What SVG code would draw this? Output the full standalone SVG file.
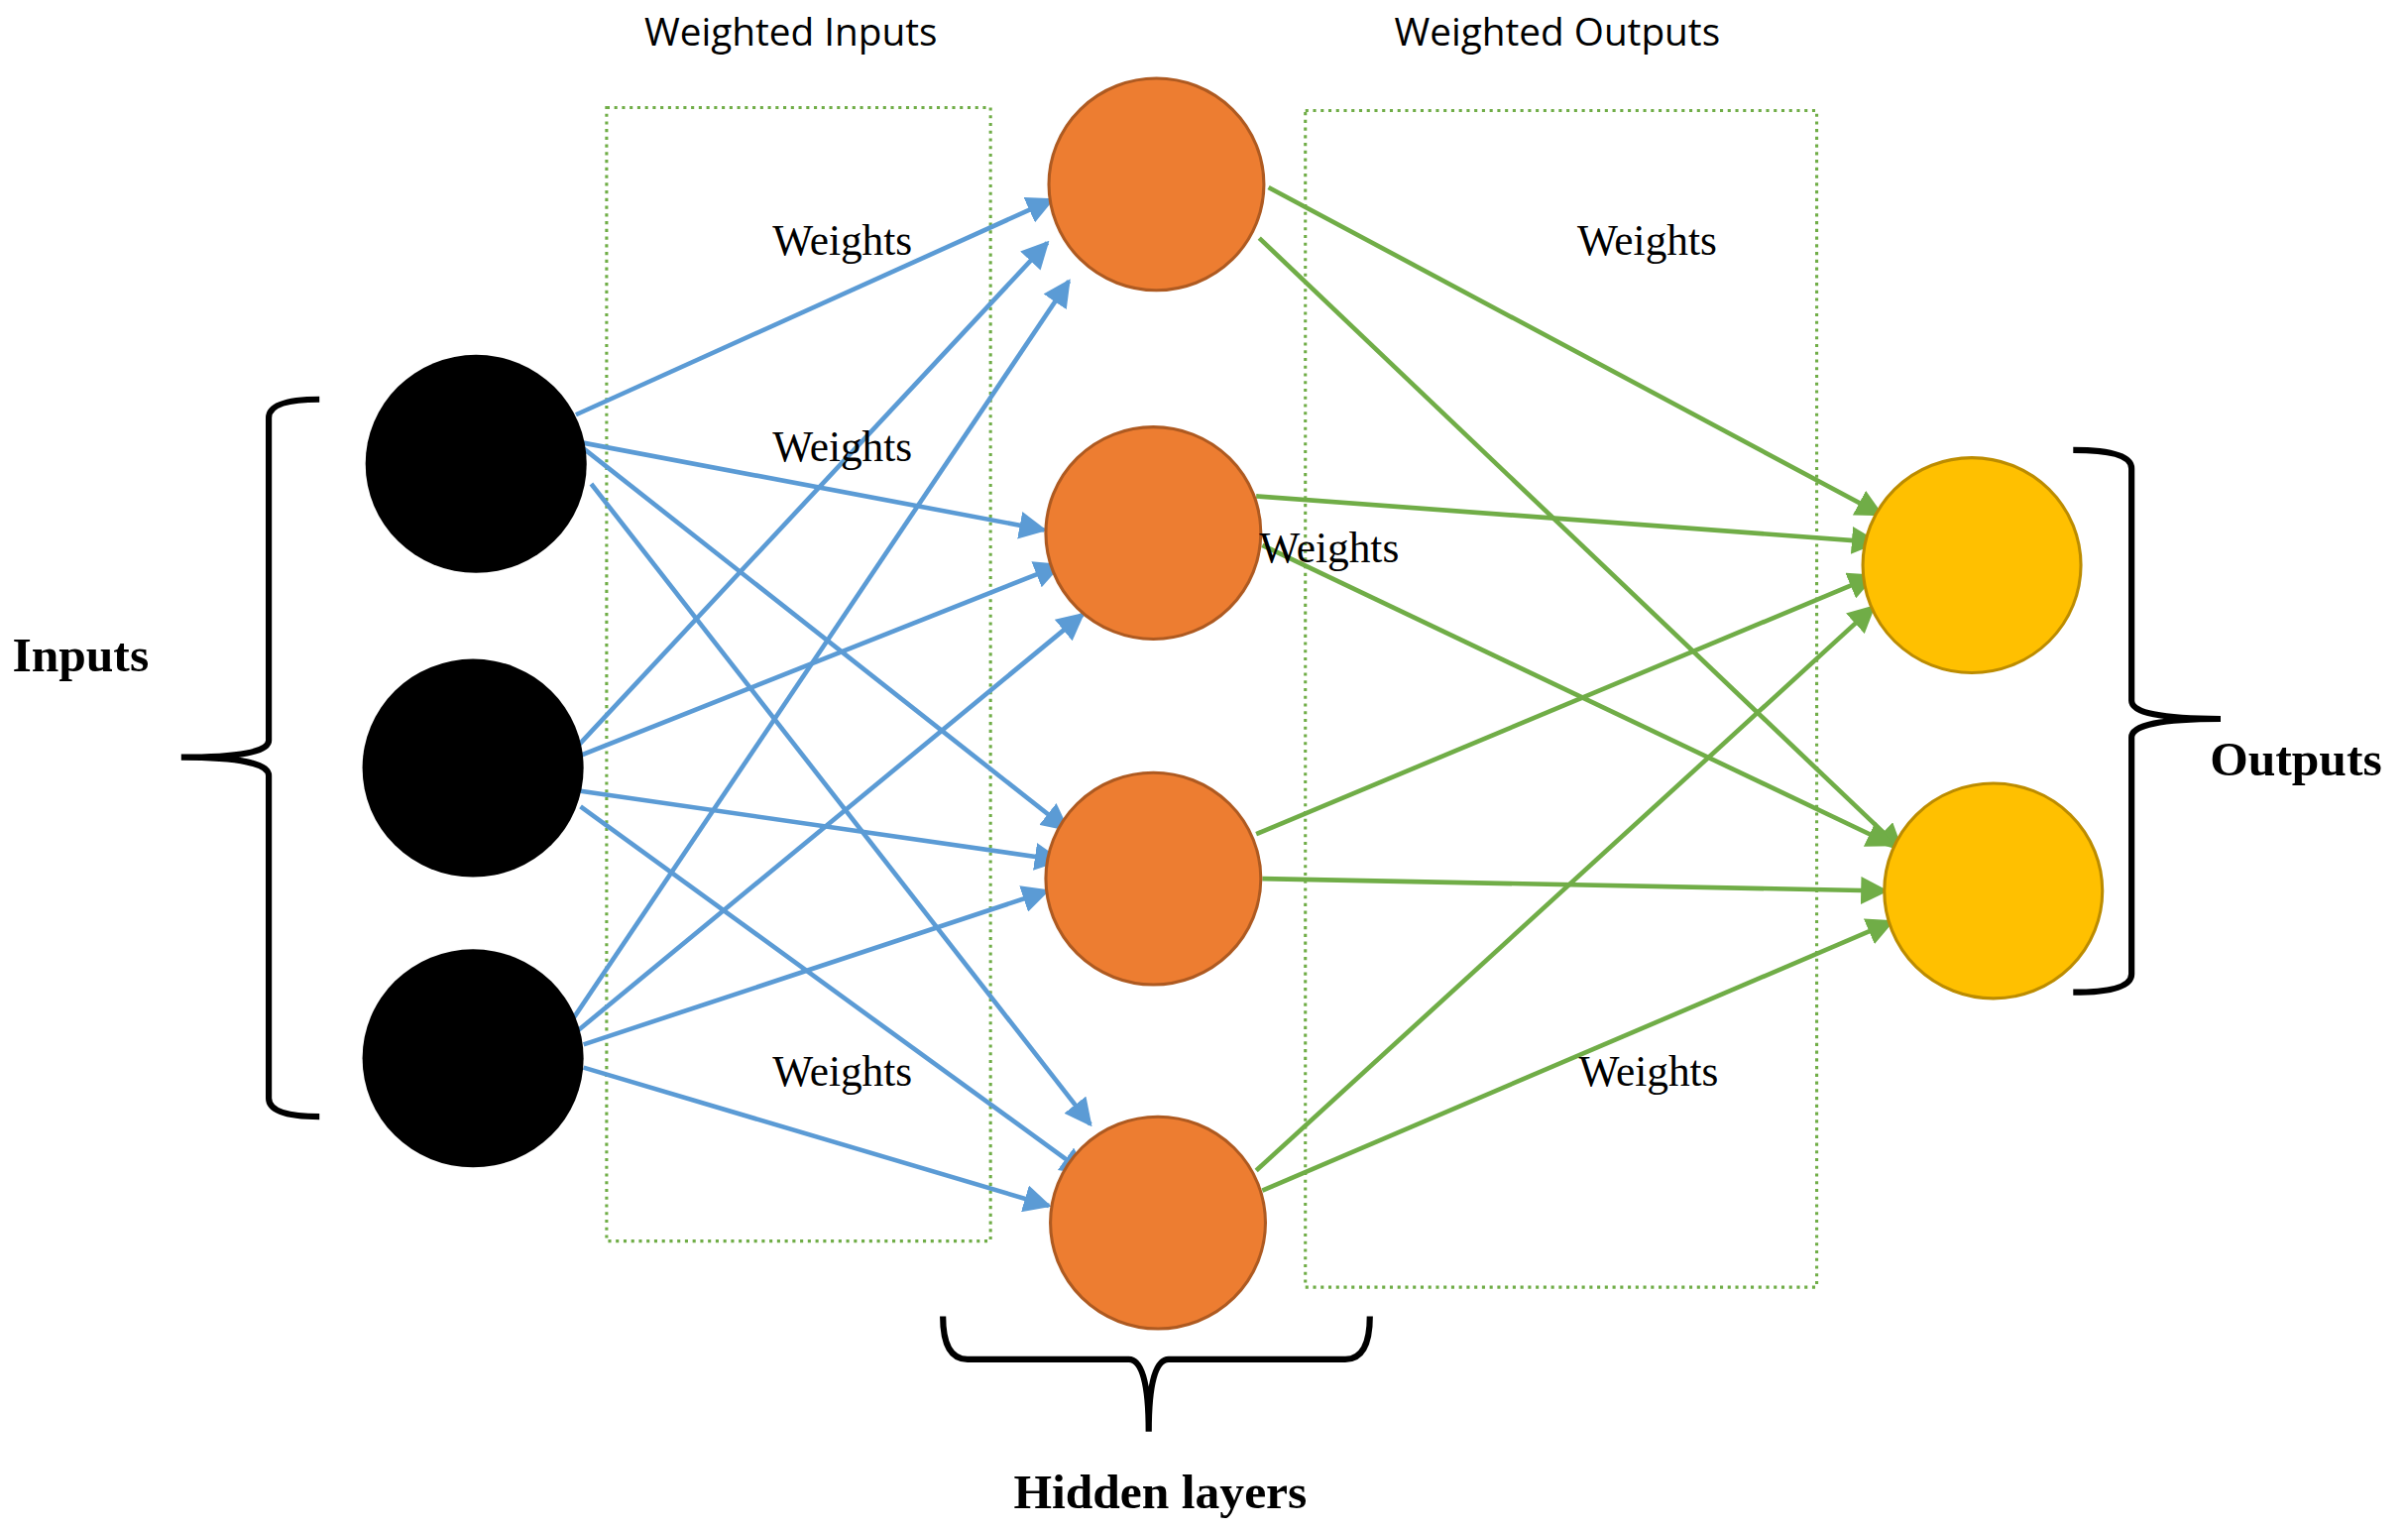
<svg xmlns="http://www.w3.org/2000/svg" width="2429" height="1544" viewBox="0 0 2429 1544">
<style>
.in{fill:#000}
.hid{fill:#ED7D31;stroke:#AE5A21;stroke-width:2}
.out{fill:#FFC000;stroke:#BC8C00;stroke-width:2}
.box{fill:none;stroke:#70AD47;stroke-width:2;stroke-dasharray:2 3}
.b{stroke:#5B9BD5;stroke-width:3;fill:none;marker-end:url(#ab)}
.g{stroke:#70AD47;stroke-width:3;fill:none;marker-end:url(#ag)}
.br{fill:none;stroke:#000;stroke-width:4}
.w{font-family:"Liberation Serif",serif;font-size:28px;fill:#000}
.h{font-family:"Open Sans","Liberation Sans",sans-serif;font-size:25px;fill:#000}
.t{font-family:"Liberation Serif",serif;font-size:32px;font-weight:bold;fill:#000}
</style>
<defs>
<marker id="ab" viewBox="0 0 10 10" refX="9" refY="5" markerWidth="6" markerHeight="6" orient="auto"><path d="M0,0 L10,5 L0,10 z" fill="#5B9BD5"/></marker>
<marker id="ag" viewBox="0 0 10 10" refX="9" refY="5" markerWidth="6" markerHeight="6" orient="auto"><path d="M0,0 L10,5 L0,10 z" fill="#70AD47"/></marker>
</defs>
<rect width="2429" height="1544" fill="#fff"/>
<g transform="scale(1.5491)">
<g id="boxes">
<rect class="box" x="395" y="70" width="250" height="738"/>
<rect class="box" x="850" y="72" width="333" height="766"/>
</g>
<g id="connectors">
<line class="b" x1="375" y1="270" x2="685" y2="130"/>
<line class="b" x1="378" y1="288" x2="680" y2="345"/>
<line class="b" x1="380" y1="292" x2="695" y2="540"/>
<line class="b" x1="385" y1="315" x2="710" y2="732"/>
<line class="b" x1="375" y1="487" x2="682" y2="158"/>
<line class="b" x1="375" y1="493" x2="690" y2="368"/>
<line class="b" x1="378" y1="515" x2="690" y2="560"/>
<line class="b" x1="378" y1="525" x2="707" y2="764"/>
<line class="b" x1="372" y1="665" x2="696" y2="183"/>
<line class="b" x1="375" y1="672" x2="705" y2="400"/>
<line class="b" x1="380" y1="680" x2="682" y2="580"/>
<line class="b" x1="380" y1="695" x2="683" y2="785"/>
<line class="g" x1="826" y1="122" x2="1225" y2="335"/>
<line class="g" x1="820" y1="155" x2="1238" y2="553"/>
<line class="g" x1="818" y1="323" x2="1222" y2="353"/>
<line class="g" x1="822" y1="355" x2="1232" y2="550"/>
<line class="g" x1="818" y1="543" x2="1220" y2="375"/>
<line class="g" x1="822" y1="572" x2="1228" y2="580"/>
<line class="g" x1="818" y1="762" x2="1220" y2="395"/>
<line class="g" x1="822" y1="775" x2="1232" y2="600"/>
</g>
<g id="in1"><ellipse class="in" cx="310" cy="302" rx="72" ry="71"/></g>
<g id="in2"><ellipse class="in" cx="308" cy="500" rx="72" ry="71"/></g>
<g id="in3"><ellipse class="in" cx="308" cy="689" rx="72" ry="71"/></g>
<g id="h1"><ellipse class="hid" cx="753" cy="120" rx="70" ry="69"/></g>
<g id="h2"><ellipse class="hid" cx="751" cy="347" rx="70" ry="69"/></g>
<g id="h3"><ellipse class="hid" cx="751" cy="572" rx="70" ry="69"/></g>
<g id="h4"><ellipse class="hid" cx="754" cy="796" rx="70" ry="69"/></g>
<g id="o1"><ellipse class="out" cx="1284" cy="368" rx="71" ry="70"/></g>
<g id="o2"><ellipse class="out" cx="1298" cy="580" rx="71" ry="70"/></g>
<g id="labels">
<text class="h" x="515" y="30" text-anchor="middle">Weighted Inputs</text>
<text class="h" x="1014" y="30" text-anchor="middle">Weighted Outputs</text>
<text class="w" x="503" y="166">Weights</text>
<text class="w" x="503" y="300">Weights</text>
<text class="w" x="820" y="366">Weights</text>
<text class="w" x="503" y="707">Weights</text>
<text class="w" x="1027" y="166">Weights</text>
<text class="w" x="1028" y="707">Weights</text>
<text class="t" x="8" y="437">Inputs</text>
<text class="t" x="1439" y="505">Outputs</text>
<text class="t" x="660" y="982">Hidden layers</text>
</g>
<g id="brackets">
<path class="br" d="M208,260 Q175,260 175,272 L175,482 Q175,493 118,493 Q175,493 175,505 L175,715 Q175,727 208,727"/>
<path class="br" d="M1350,293 Q1388,293 1388,305 L1388,456 Q1388,468 1446,468 Q1388,468 1388,480 L1388,634 Q1388,646 1350,646"/>
<path class="br" d="M614,857 Q614,885 630,885 L735,885 Q748,885 748,932 Q748,885 761,885 L876,885 Q892,885 892,857"/>
</g>
</g>
</svg>
